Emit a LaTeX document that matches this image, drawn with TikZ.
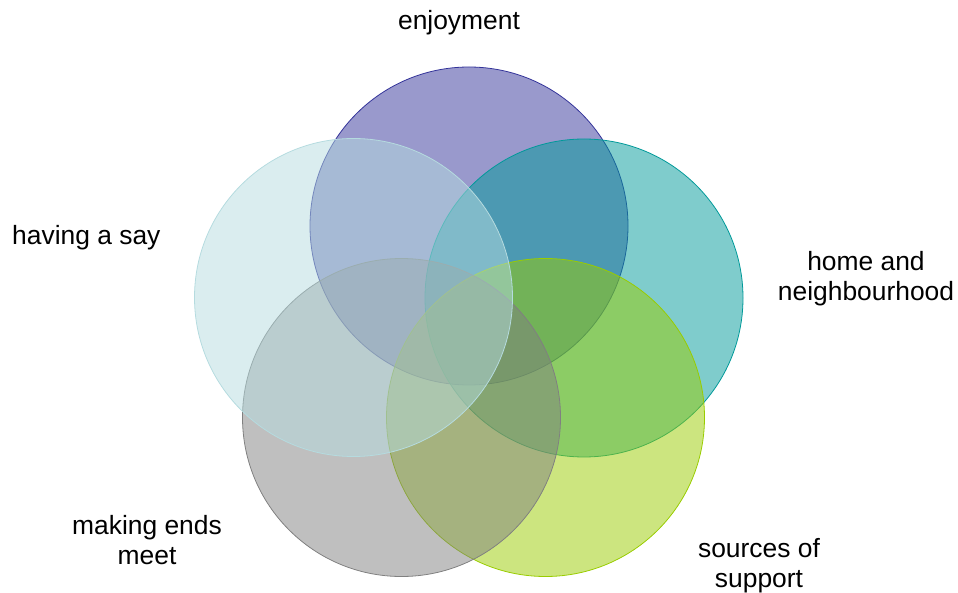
\documentclass[tikz,border=0pt]{standalone}
\usepackage{fontspec}
\setmainfont{Liberation Sans}
\definecolor{joy}{RGB}{51,51,153}
\definecolor{home}{RGB}{0,153,153}
\definecolor{support}{RGB}{153,204,0}
\definecolor{ends}{RGB}{128,128,128}
\definecolor{say}{RGB}{181,219,223}
\begin{document}
\begin{tikzpicture}[x=1pt,y=-1pt,
  ring/.style={circle, draw=#1, fill=#1, fill opacity=0.5, draw opacity=1, line width=0.8pt, minimum size=318pt, inner sep=0pt, outer sep=0pt},
  label/.style={font=\fontsize{26.4}{30}\selectfont, align=center, inner sep=0pt}]
\useasboundingbox (0,0) rectangle (958,593);

\node[ring=joy] (enjoy) at (469,226) {};
\node[ring=home] (home) at (584,298) {};
\node[ring=support] (supp) at (545.5,417.5) {};
\node[ring=ends] (ends) at (401.5,417.5) {};
\node[ring=say] (say) at (353.5,297.5) {};

\node[label, anchor=base] (tjoy) at (459,30) {enjoyment};
\node[label, anchor=base west] (tsay) at (12,245) {having a say};
\node[label] (thome) at (866,279) {home and\\neighbourhood};
\node[label] (tsupp) at (759,566) {sources of\\support};
\node[label] (tends) at (147,540) {making ends\\meet};
\end{tikzpicture}
\end{document}
